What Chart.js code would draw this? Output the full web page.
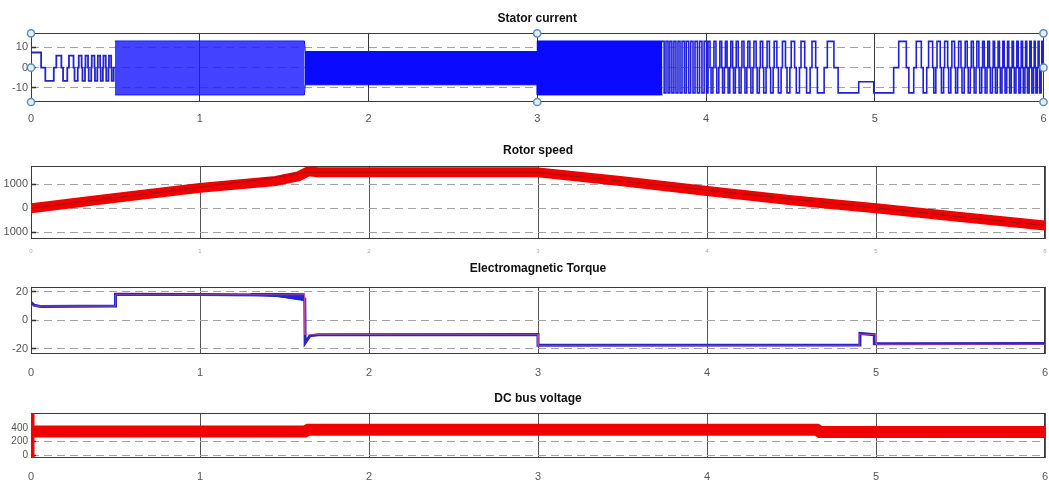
<!DOCTYPE html>
<html lang="en">
<head>
<meta charset="UTF-8">
<title>Drive scopes</title>
<script src="https://cdn.jsdelivr.net/npm/chart.js"></script>
<style>
  body { margin: 0; background: #fff; width: 1049px; height: 486px; overflow: hidden; position: relative; }
  .panel { position: absolute; left: 0; width: 1049px; }
</style>
</head>
<body>
<div class="panel" style="top:0;height:126px"><canvas id="statorChart"></canvas></div>
<div class="panel" style="top:128px;height:126px"><canvas id="rotorChart"></canvas></div>
<div class="panel" style="top:255px;height:125px"><canvas id="torqueChart"></canvas></div>
<div class="panel" style="top:383px;height:103px"><canvas id="dcChart"></canvas></div>

<script>
// ---- data ----
const timeTicks = [0, 1, 2, 3, 4, 5, 6];

// Stator current: [time s, level A] step changes
const currentRamp = [
  [0, 7.5], [0.06, 0], [0.085, -6.5], [0.135, 0], [0.15, 6], [0.18, 0], [0.19, -6.5], [0.215, 0],
  [0.225, 6], [0.252, 0], [0.258, -6.5], [0.277, 0], [0.283, 6], [0.3, 0], [0.305, -6.5], [0.32, 0],
  [0.323, 6], [0.338, 0], [0.342, -6.5], [0.357, 0], [0.36, 6], [0.376, 0], [0.379, -6.5], [0.393, 0],
  [0.396, 6], [0.41, 0], [0.413, -6.5], [0.426, 0], [0.429, 6], [0.443, 0], [0.446, -6.5], [0.459, 0],
  [0.462, 6], [0.475, 0], [0.478, -6.5], [0.49, 0], [0.497, 0]
];
const currentLate = [
  [3.740, 13], [3.752, -12.5], [3.763, 13], [3.775, -12.5], [3.786, 13], [3.798, -12.5], [3.810, 13], [3.822, -12.5],
  [3.834, 13], [3.846, -12.5], [3.858, 13], [3.872, -12.5], [3.883, 13], [3.897, -12.5], [3.909, 13], [3.923, -12.5],
  [3.935, 13], [3.949, -12.5], [3.962, 13], [3.976, -12.5], [3.989, 13], [4.003, -12.5],
  [4.012, 13], [4.024, 0], [4.030, -12.5], [4.041, 0], [4.047, 13], [4.059, 0], [4.064, -12.5], [4.076, 0],
  [4.082, 13], [4.093, 0], [4.098, -12.5], [4.109, 0], [4.115, 13], [4.125, 0], [4.131, -12.5], [4.141, 0],
  [4.147, 13], [4.158, 0], [4.163, -12.5], [4.174, 0], [4.179, 13], [4.191, 0], [4.196, -12.5], [4.208, 0],
  [4.213, 13], [4.225, 0], [4.231, -12.5], [4.242, 0], [4.248, 13], [4.260, 0], [4.266, -12.5], [4.278, 0],
  [4.284, 13], [4.297, 0], [4.303, -12.5], [4.316, 0], [4.322, 13], [4.336, 0], [4.342, -12.5], [4.356, 0],
  [4.362, 13], [4.376, 0], [4.383, -12.5], [4.398, 0], [4.404, 13], [4.420, 0], [4.429, -12.5], [4.445, 0],
  [4.453, 13], [4.471, 0], [4.480, -12.5], [4.497, 0], [4.505, 13], [4.525, 0], [4.535, -12.5], [4.554, 0],
  [4.563, 13], [4.585, 0], [4.596, -12.5], [4.617, 0], [4.628, 13], [4.650, 0], [4.660, -12.5], [4.700, 0],
  [4.719, 13], [4.758, 0], [4.783, -12.5], [4.905, -7], [4.994, -12.5], [5.112, 0],
  [5.142, 13], [5.187, 0], [5.202, -12.5], [5.231, 0], [5.246, 13], [5.276, 0], [5.287, -12.5], [5.308, 0],
  [5.319, 13], [5.343, 0], [5.350, -12.5], [5.362, 0], [5.369, 13], [5.388, 0], [5.395, -12.5], [5.408, 0],
  [5.414, 13], [5.432, 0], [5.438, -12.5], [5.451, 0], [5.457, 13], [5.473, 0], [5.479, -12.5], [5.491, 0],
  [5.497, 13], [5.511, 0], [5.517, -12.5], [5.530, 0], [5.536, 13], [5.548, 0], [5.554, -12.5], [5.566, 0],
  [5.572, 13], [5.584, 0], [5.589, -12.5], [5.600, 0], [5.605, 13], [5.617, 0], [5.622, -12.5], [5.634, 0],
  [5.639, 13], [5.649, 0], [5.654, -12.5], [5.665, 0], [5.670, 13], [5.680, 0], [5.685, -12.5], [5.697, 0],
  [5.702, 13], [5.710, 0], [5.715, -12.5], [5.726, 0], [5.731, 13], [5.739, 0], [5.744, -12.5], [5.754, 0],
  [5.759, 13], [5.767, 0], [5.772, -12.5], [5.782, 0], [5.787, 13], [5.794, 0], [5.799, -12.5], [5.809, 0],
  [5.814, 13], [5.822, 0], [5.827, -12.5], [5.837, 0], [5.842, 13], [5.850, 0], [5.854, -12.5], [5.864, 0],
  [5.868, 13], [5.876, 0], [5.880, -12.5], [5.890, 0], [5.894, 13], [5.901, 0], [5.905, -12.5], [5.915, 0],
  [5.919, 13], [5.927, 0], [5.931, -12.5], [5.941, 0], [5.945, 13], [5.951, 0], [5.955, -12.5], [5.964, 0],
  [5.968, 13], [5.974, 0], [5.978, -12.5], [5.986, 0], [5.990, 13], [5.996, 0], [6.0, 0]
];
// envelope of the fast-switching zones (too dense to resolve single pulses)
const stripeT = [0.497, 1.62];
const stripeHigh = [13.2, 13.2];
const stripeLow = [-13.5, -13.5];
const denseT = [1.62, 1.625, 3.0, 3.0, 3.742];
const denseHigh = [13.2, 8, 8, 13.2, 13.2];
const denseLow = [-13.5, -8.5, -8.5, -13.5, -13.5];
const currentTicks = [-10, 0, 10];
const handleT = [0, 0, 0, 3, 3, 6, 6, 6];
const handleY = [17, 0, -17, 17, -17, 17, 0, -17];

// Rotor speed (rpm)
const speedT = [0, 0.5, 1, 1.45, 1.58, 1.64, 1.7, 3, 3.5, 4, 4.5, 5, 5.5, 6];
const speedMeasured = [0, 430, 850, 1140, 1330, 1540, 1500, 1500, 1130, 720, 330, 0, -370, -730];
const speedRefT = [0, 1, 1.4, 1.63, 3, 6];
const speedRef = [0, 880, 1240, 1500, 1500, -730];
const speedTicks = [-1000, 0, 1000];
const speedTickLabels = ['1000', '0', '1000'];

// Electromagnetic torque (N.m)
const torqueT = [0, 0.02, 0.06, 0.5, 0.5, 1.0, 1.4, 1.6, 1.62, 1.622, 1.65, 1.7, 3.0, 3.0, 4.905, 4.905, 4.99, 4.99, 6];
const torqueMeasured = [12.5, 10.5, 9.6, 10, 18.4, 18.2, 17.8, 16.5, 15, -16, -11, -10.3, -10, -17.6, -17.5, -9.3, -10.2, -16.6, -16.4];
const rippleT = [1.3, 1.45, 1.62];
const rippleHigh = [18.8, 18.9, 18.6];
const rippleLow = [17.6, 16.8, 13.8];
const torqueRefT = [0, 0.5, 0.5, 1.62, 1.62, 3, 3, 4.9, 4.9, 5, 5, 6];
const torqueRef = [10, 10, 18, 18, -10, -10, -18, -18, -10, -10, -17, -17];
const torqueTicks = [-20, 0, 20];

// DC bus voltage (V)
const dcSpikeT = [0, 0];
const dcSpike = [-30, 600];
const dcT = [0, 1.62, 1.64, 4.65, 4.67, 6];
const dcVoltage = [345, 345, 372, 372, 338, 338];
const dcTicks = [0, 200, 400];

// ---- chart helpers ----
const FONT = '"Liberation Sans", Arial, sans-serif';
const zip = (xs, ys) => xs.map((x, i) => ({ x: x, y: ys[i] }));
const pairs = arr => arr.map(p => ({ x: p[0], y: p[1] }));

const framePlugin = {
    id: 'frame',
    beforeDatasetsDraw(chart) {
        const a = chart.chartArea, ctx = chart.ctx;
        ctx.save();
        ctx.strokeStyle = '#3a3a3a';
        ctx.lineWidth = 1;
        ctx.strokeRect(Math.round(a.left) + 0.5, Math.round(a.top) + 0.5,
            Math.round(a.right - a.left) - 1, Math.round(a.bottom - a.top) - 1);
        ctx.restore();
    }
};

function scopeOptions(c) {
    return {
        responsive: true,
        maintainAspectRatio: false,
        animation: false,
        events: [],
        layout: { padding: { left: 0, right: 4, top: 0, bottom: 0 } },
        elements: { point: { radius: 0 }, line: { tension: 0 } },
        plugins: {
            legend: { display: false },
            tooltip: { enabled: false },
            title: {
                display: true, text: c.title, fullSize: false, color: '#111',
                font: { family: FONT, size: 12, weight: 'bold' },
                padding: { top: c.titleTop, bottom: c.titleBottom }
            }
        },
        scales: {
            x: {
                type: 'linear', min: 0, max: 6,
                afterBuildTicks: s => { s.ticks = timeTicks.map(v => ({ value: v })); },
                afterFit: s => { s.height = c.xHeight; s.paddingLeft = 0; s.paddingRight = 0; },
                ticks: { font: { family: FONT, size: c.xFont || 11 }, color: c.xColor || '#555', padding: c.xPad, maxRotation: 0 },
                grid: { color: c.vGrid || '#3a3a3a', lineWidth: 1, drawTicks: false },
                border: { display: false }
            },
            y: {
                min: c.min, max: c.max,
                afterBuildTicks: s => { s.ticks = c.ticks.map(v => ({ value: v })); },
                afterFit: s => { s.width = 31; s.paddingTop = 0; s.paddingBottom = 0; },
                ticks: {
                    font: { family: FONT, size: c.yFont || 11 }, color: '#555', padding: 8,
                    callback: (v, i) => c.labels ? c.labels[i] : String(c.ticks[i])
                },
                grid: { color: '#a3a3a3', lineWidth: 1, drawTicks: true, tickLength: -5, tickColor: '#333', tickWidth: 1.5 },
                border: { display: false, dash: [8, 5] }
            }
        }
    };
}

// ---- Stator current ----
new Chart(document.getElementById('statorChart'), {
    type: 'line',
    data: {
        datasets: [
            { data: zip(handleT, handleY), showLine: false, clip: false, pointRadius: 3.6, pointStyle: 'circle',
              pointBackgroundColor: '#e4eef8', pointBorderColor: '#5b8fbf', pointBorderWidth: 1.5 },
            { data: pairs(currentRamp), stepped: true, borderColor: '#2424c8', borderWidth: 1.8 },
            { data: pairs(currentLate), stepped: true, borderColor: '#2020d8', borderWidth: 1.6 },
            { data: zip(denseT, denseHigh), borderColor: '#0a0aff', borderWidth: 1 },
            { data: zip(denseT, denseLow), borderColor: '#0a0aff', borderWidth: 1, fill: '-1', backgroundColor: '#0a0aff' },
            { data: zip(stripeT, stripeHigh), borderColor: '#1a1aff', borderWidth: 1 },
            { data: zip(stripeT, stripeLow), borderColor: '#1a1aff', borderWidth: 1, fill: '-1', backgroundColor: 'rgba(26,26,255,0.82)' }
        ]
    },
    options: scopeOptions({ title: 'Stator current', titleTop: 11, titleBottom: 7.5, xHeight: 24, xPad: 10,
        min: -17, max: 17.2, ticks: currentTicks }),
    plugins: [framePlugin]
});

// ---- Rotor speed ----
new Chart(document.getElementById('rotorChart'), {
    type: 'line',
    data: {
        datasets: [
            { data: zip(speedRefT, speedRef), borderColor: 'rgba(120,25,25,0.7)', borderWidth: 1 },
            { data: zip(speedT, speedMeasured), borderColor: '#f00000', borderWidth: 10, borderCapStyle: 'round', borderJoinStyle: 'round' }
        ]
    },
    options: scopeOptions({ title: 'Rotor speed', titleTop: 15, titleBottom: 8.5, xHeight: 15, xPad: 9, xFont: 6, xColor: '#aaa',
        vGrid: '#555', min: -1290, max: 1770, ticks: speedTicks, labels: speedTickLabels }),
    plugins: [framePlugin]
});

// ---- Electromagnetic torque ----
new Chart(document.getElementById('torqueChart'), {
    type: 'line',
    data: {
        datasets: [
            { data: zip(torqueRefT, torqueRef), borderColor: 'rgba(230,90,150,0.55)', borderWidth: 1 },
            { data: zip(torqueT, torqueMeasured), borderColor: '#2828c0', borderWidth: 3 },
            { data: zip(rippleT, rippleHigh), borderColor: '#1e1ee0', borderWidth: 1 },
            { data: zip(rippleT, rippleLow), borderColor: '#1e1ee0', borderWidth: 1, fill: '-1', backgroundColor: '#1e1ee0' }
        ]
    },
    options: scopeOptions({ title: 'Electromagnetic Torque', titleTop: 6, titleBottom: 11.5, xHeight: 26, xPad: 12,
        vGrid: '#555', min: -23.8, max: 23.5, ticks: torqueTicks }),
    plugins: [framePlugin]
});

// ---- DC bus voltage ----
new Chart(document.getElementById('dcChart'), {
    type: 'line',
    data: {
        datasets: [
            { data: zip(dcSpikeT, dcSpike), borderColor: '#f00000', borderWidth: 7, borderCapStyle: 'round' },
            { data: zip(dcT, dcVoltage), borderColor: '#f00000', borderWidth: 12 }
        ]
    },
    options: scopeOptions({ title: 'DC bus voltage', titleTop: 8, titleBottom: 7.5, xHeight: 28, xPad: 12,
        vGrid: '#555', min: -44, max: 620, ticks: dcTicks, yFont: 10 }),
    plugins: [framePlugin]
});
</script>
</body>
</html>
